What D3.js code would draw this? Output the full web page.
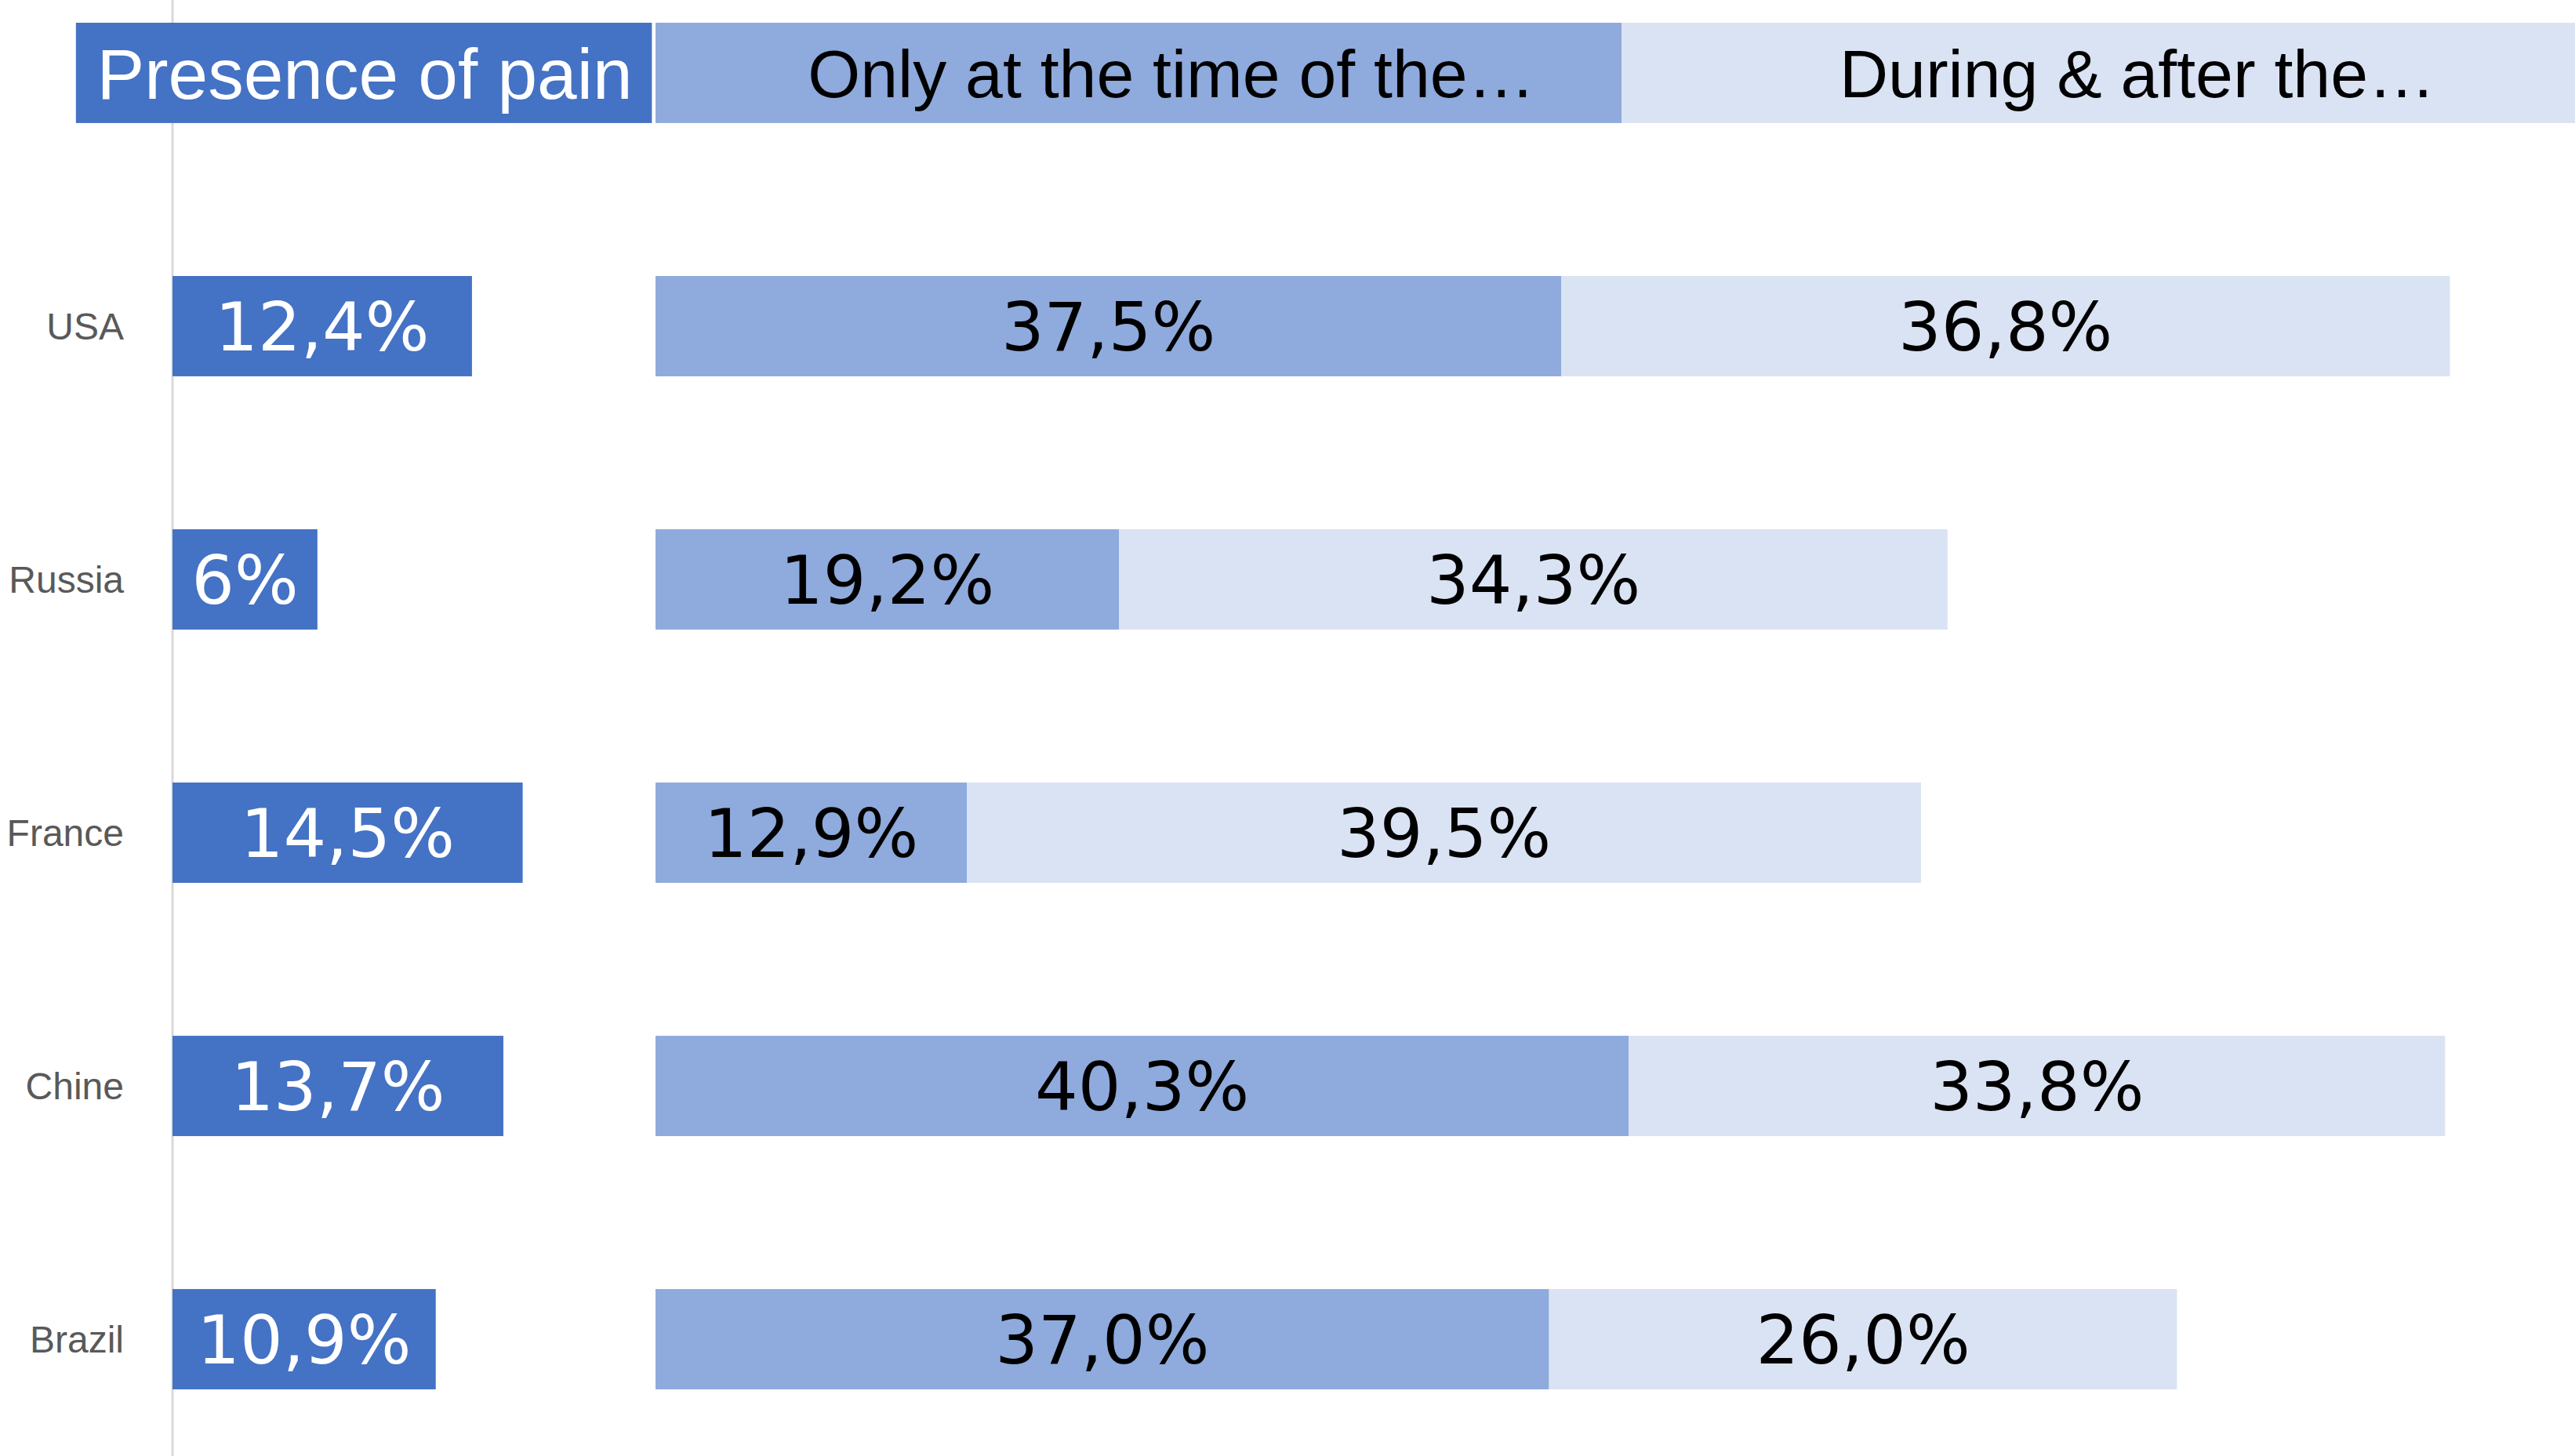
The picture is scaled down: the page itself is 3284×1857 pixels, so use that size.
<!DOCTYPE html>
<html>
<head>
<meta charset="utf-8">
<script src="https://cdn.jsdelivr.net/npm/d3@7"></script>
<style>
  body { margin: 0; background: #fff; }
  svg { display: block; }
</style>
</head>
<body>
<div id="chart"></div>
<script>
var countries = ["USA", "Russia", "France", "Chine", "Brazil"];
var presence = [12.4, 6, 14.5, 13.7, 10.9];
var onlyAtTime = [37.5, 19.2, 12.9, 40.3, 37.0];
var duringAfter = [36.8, 34.3, 39.5, 33.8, 26.0];
var headers = ["Presence of pain", "Only at the time of the\u2026", "During & after the\u2026"];

// the original is a stacked bar with an invisible "gap" series up to 20%
var gapTo = 20;

var width = 3284, height = 1857;

var data = countries.map(function(c, i) {
  return {country: c, presence: presence[i], gap: gapTo - presence[i], only: onlyAtTime[i], during: duringAfter[i]};
});

var stack = d3.stack().keys(["presence", "gap", "only", "during"]);
var series = stack(data);

var x = d3.scaleLinear().domain([0, 100]).range([220, 3300]);
var y = d3.scaleBand()
  .domain(["header"].concat(countries))
  .range([29, 1772])
  .paddingInner(0.604)
  .paddingOuter(0);

var color = {presence: "#4472C4", only: "#8FAADC", during: "#DAE3F3"};
var textColor = {presence: "#fff", only: "#000", during: "#000"};

var locale = d3.formatLocale({decimal: ",", thousands: " ", grouping: [3], currency: ["", "%"]});
var fmtPresence = locale.format(".1~f");
var fmt = locale.format(".1f");

var svg = d3.select("#chart").append("svg")
  .attr("width", width)
  .attr("height", height);

// vertical axis line, full height
svg.append("line")
  .attr("x1", x(0)).attr("x2", x(0))
  .attr("y1", 0).attr("y2", height)
  .style("stroke", "#D9D9D9")
  .style("stroke-width", 3);

// header row
var headerSpans = [[-4, gapTo - 0.15], [gapTo, gapTo + 40], [gapTo + 40, gapTo + 80]];
var headerColors = [color.presence, color.only, color.during];
var hdr = svg.append("g").attr("class", "header");
hdr.selectAll("rect")
  .data(headerSpans)
  .enter().append("rect")
  .attr("x", function(d) { return x(d[0]); })
  .attr("width", function(d) { return x(d[1]) - x(d[0]); })
  .attr("y", y("header"))
  .attr("height", y.bandwidth())
  .style("fill", function(d, i) { return headerColors[i]; });

hdr.selectAll("text")
  .data(headerSpans)
  .enter().append("text")
  .attr("x", function(d, i) { return (x(d[0]) + x(d[1])) / 2 + (i > 0 ? 42 : 1); })
  .attr("y", y("header") + y.bandwidth() / 2)
  .attr("dy", "0.36em")
  .attr("text-anchor", "middle")
  .style("font-family", "'Liberation Sans', Arial, sans-serif")
  .style("font-size", function(d, i) { return i === 0 ? "91px" : "86px"; })
  .style("fill", function(d, i) { return i === 0 ? "#fff" : "#000"; })
  .text(function(d, i) { return headers[i]; });

// bars
var visible = series.filter(function(s) { return s.key !== "gap"; });

var layer = svg.selectAll(".layer")
  .data(visible)
  .enter().append("g")
  .attr("class", "layer")
  .style("fill", function(s) { return color[s.key]; });

layer.selectAll("rect")
  .data(function(s) { return s; })
  .enter().append("rect")
  .attr("x", function(d) { return x(d[0]); })
  .attr("width", function(d) { return x(d[1]) - x(d[0]); })
  .attr("y", function(d) { return y(d.data.country); })
  .attr("height", y.bandwidth());

layer.selectAll("text")
  .data(function(s) { return s.map(function(d) { d.key = s.key; return d; }); })
  .enter().append("text")
  .attr("x", function(d) { return (x(d[0]) + x(d[1])) / 2; })
  .attr("y", function(d) { return y(d.data.country) + y.bandwidth() / 2; })
  .attr("dy", "0.36em")
  .attr("text-anchor", "middle")
  .style("font-family", "'DejaVu Sans', sans-serif")
  .style("font-size", "86px")
  .style("fill", function(d) { return textColor[d.key]; })
  .text(function(d) {
    var v = d.data[d.key];
    return (d.key === "presence" ? fmtPresence(v) : fmt(v)) + "%";
  });

// category axis
var yAxis = d3.axisLeft(y)
  .tickSize(0)
  .tickPadding(62)
  .tickFormat(function(d) { return d === "header" ? "" : d; });

var ax = svg.append("g")
  .attr("transform", "translate(" + x(0) + ",0)")
  .call(yAxis);
ax.select(".domain").remove();
ax.selectAll("text")
  .attr("dy", "0.36em")
  .style("font-family", "'Liberation Sans', Arial, sans-serif")
  .style("font-size", "48px")
  .style("fill", "#595959");
</script>
</body>
</html>
